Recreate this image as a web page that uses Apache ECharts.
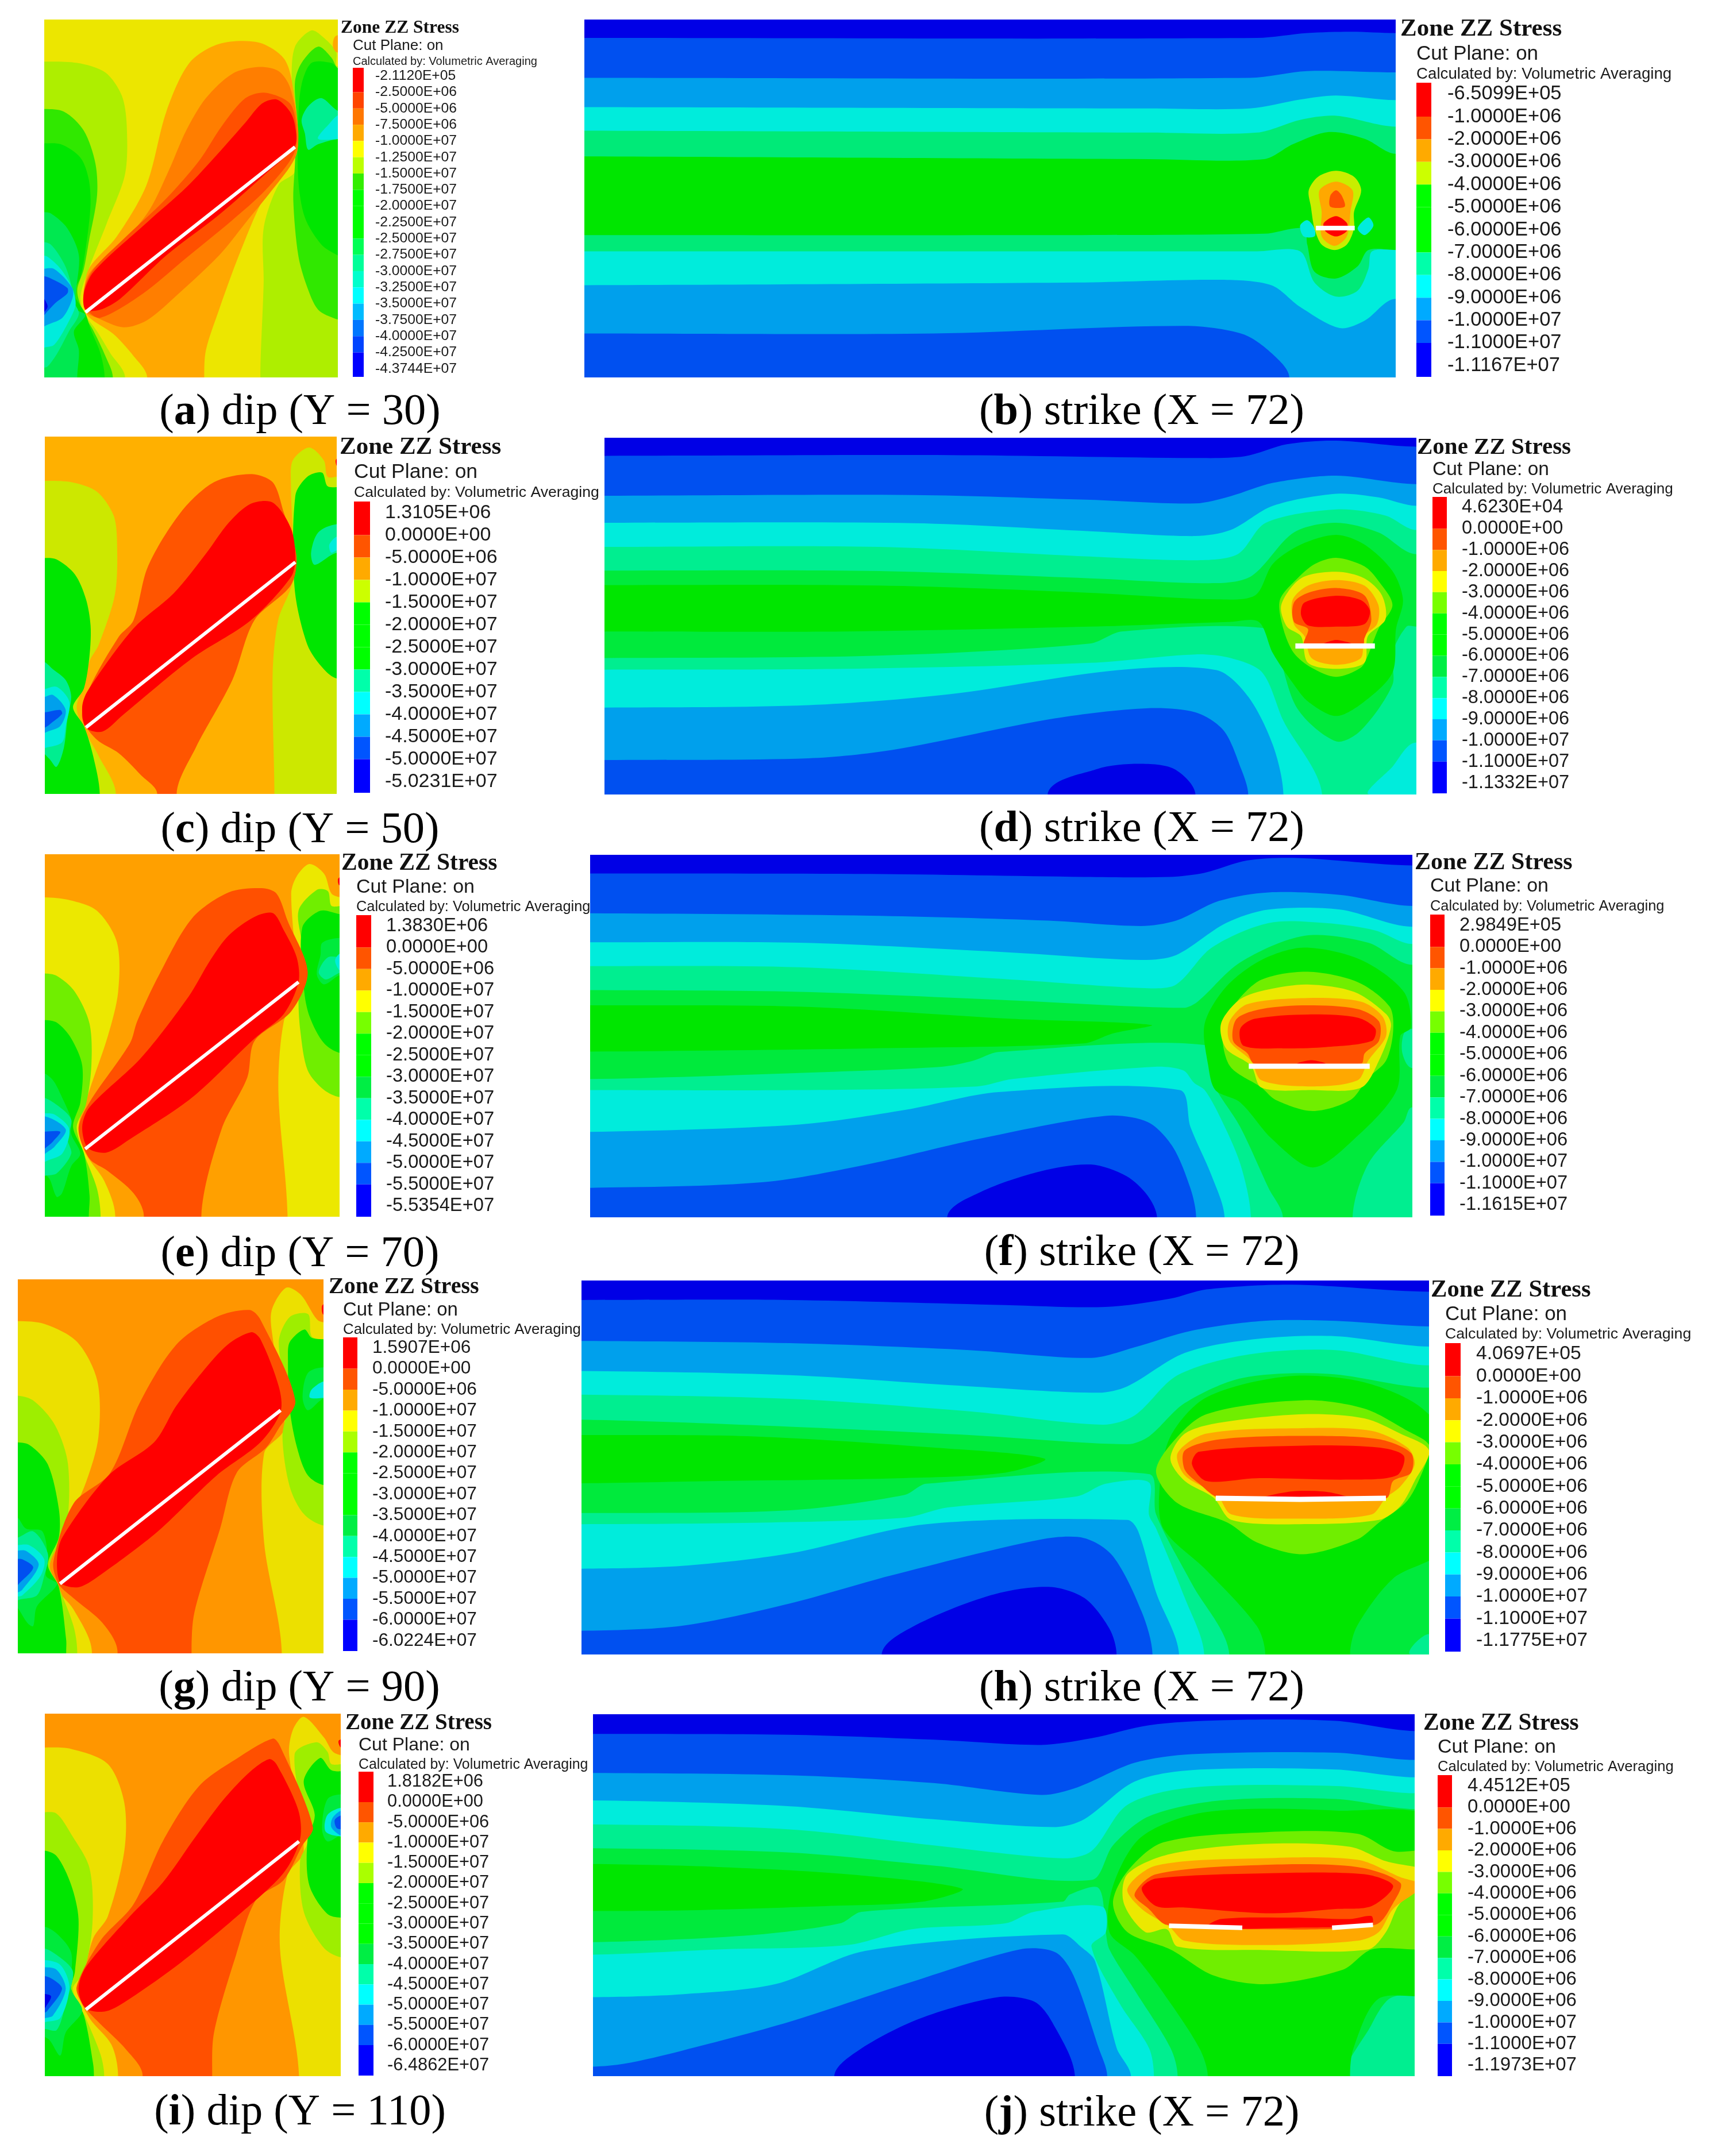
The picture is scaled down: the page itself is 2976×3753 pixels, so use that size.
<!DOCTYPE html>
<html><head><meta charset="utf-8">
<script src="https://cdn.jsdelivr.net/npm/echarts@6/dist/echarts.min.js"></script>
<style>html,body{margin:0;background:#fff}#c{width:2976px;height:3753px}</style></head>
<body><div id="c"></div>
<script>
// contour colours
const RD='#ff0000',OR='#ff5000',OA='#ffa800',YL='#ece800',YG='#70ee00',GN='#00e600',GG='#00ea3c',SG='#00ee90',CY='#00ecdc',LB='#00a0ec',BL='#0050f0',DB='#0000e6';
// legend colours
const lR='#ff0000',lO='#ff5500',lA='#ffaa00',lY='#ffff00',lG='#00ff00',lM='#00ee44',lS='#00ffaa',lC='#00ffff',lL='#00aaff',lB='#0055ff',lD='#0000ff';
// helpers closing a contour band outside the panel
const FAR=3000;
const below=(...p)=>[-300,p[1],...p,FAR,p[p.length-1],FAR,FAR,-300,FAR];
const left=(...p)=>[-300,p[1],...p,p[p.length-2],FAR,-300,FAR];
const bot=(...p)=>[p[0],FAR,...p,p[p.length-2],FAR];
const rb=(...p)=>[p[0],FAR,...p,FAR,p[p.length-1],FAR,FAR];
const right=(...p)=>[FAR,p[1],...p,FAR,p[p.length-1]];

// ---------- tick labels ----------
const labelsA=['-2.1120E+05','-2.5000E+06','-5.0000E+06','-7.5000E+06','-1.0000E+07','-1.2500E+07','-1.5000E+07','-1.7500E+07','-2.0000E+07','-2.2500E+07','-2.5000E+07','-2.7500E+07','-3.0000E+07','-3.2500E+07','-3.5000E+07','-3.7500E+07','-4.0000E+07','-4.2500E+07','-4.3744E+07'];
const labelsB=['-6.5099E+05','-1.0000E+06','-2.0000E+06','-3.0000E+06','-4.0000E+06','-5.0000E+06','-6.0000E+06','-7.0000E+06','-8.0000E+06','-9.0000E+06','-1.0000E+07','-1.1000E+07','-1.1167E+07'];
const labelsC=['1.3105E+06','0.0000E+00','-5.0000E+06','-1.0000E+07','-1.5000E+07','-2.0000E+07','-2.5000E+07','-3.0000E+07','-3.5000E+07','-4.0000E+07','-4.5000E+07','-5.0000E+07','-5.0231E+07'];
const labelsD=['4.6230E+04','0.0000E+00','-1.0000E+06','-2.0000E+06','-3.0000E+06','-4.0000E+06','-5.0000E+06','-6.0000E+06','-7.0000E+06','-8.0000E+06','-9.0000E+06','-1.0000E+07','-1.1000E+07','-1.1332E+07'];
const labelsE=['1.3830E+06','0.0000E+00','-5.0000E+06','-1.0000E+07','-1.5000E+07','-2.0000E+07','-2.5000E+07','-3.0000E+07','-3.5000E+07','-4.0000E+07','-4.5000E+07','-5.0000E+07','-5.5000E+07','-5.5354E+07'];
const labelsF=['2.9849E+05','0.0000E+00','-1.0000E+06','-2.0000E+06','-3.0000E+06','-4.0000E+06','-5.0000E+06','-6.0000E+06','-7.0000E+06','-8.0000E+06','-9.0000E+06','-1.0000E+07','-1.1000E+07','-1.1615E+07'];
const labelsG=['1.5907E+06','0.0000E+00','-5.0000E+06','-1.0000E+07','-1.5000E+07','-2.0000E+07','-2.5000E+07','-3.0000E+07','-3.5000E+07','-4.0000E+07','-4.5000E+07','-5.0000E+07','-5.5000E+07','-6.0000E+07','-6.0224E+07'];
const labelsH=['4.0697E+05','0.0000E+00','-1.0000E+06','-2.0000E+06','-3.0000E+06','-4.0000E+06','-5.0000E+06','-6.0000E+06','-7.0000E+06','-8.0000E+06','-9.0000E+06','-1.0000E+07','-1.1000E+07','-1.1775E+07'];
const labelsI=['1.8182E+06','0.0000E+00','-5.0000E+06','-1.0000E+07','-1.5000E+07','-2.0000E+07','-2.5000E+07','-3.0000E+07','-3.5000E+07','-4.0000E+07','-4.5000E+07','-5.0000E+07','-5.5000E+07','-6.0000E+07','-6.4862E+07'];
const labelsJ=['4.4512E+05','0.0000E+00','-1.0000E+06','-2.0000E+06','-3.0000E+06','-4.0000E+06','-5.0000E+06','-6.0000E+06','-7.0000E+06','-8.0000E+06','-9.0000E+06','-1.0000E+07','-1.1000E+07','-1.1973E+07'];

// ---------- legend bands ----------
const bandsA=[lR,'#ff4400','#ff7700',lA,lY,'#bbff00','#33ee00',lG,lG,lG,'#00ff55','#00ff99','#00ffcc',lC,'#00bbff','#0077ff','#0044ff',lD];
const bandsB=[lR,lO,lA,'#ccff00',lG,lG,lG,lS,lC,lL,lB,lD];
const bandsC=[lR,lO,lA,'#ccff00',lG,lG,lG,lS,lC,lL,lB,lD];
const bands13=[lR,lO,lA,lY,'#77ff00',lG,lG,lM,lS,lC,lL,lB,lD];
const bands14=[lR,lO,lA,lY,'#aaff00',lG,lG,lG,lM,lS,lC,lL,lB,lD];

// ---------- contour bands, painted in order, in section coordinates ----------
const bandsFieldA=[
 ['#aeee00',left(20,185,130,190,215,225,265,310,280,420,275,600,220,780,165,950,140,1050,150,1110,190,1180,230,1260,275,1350)],
 ['#30e800',left(20,360,90,370,150,440,185,560,190,680,165,850,150,950,130,1030,150,1115,180,1180,215,1270,238,1350)],
 [GN,left(20,487,80,490,140,540,165,620,170,720,155,880,140,980,120,1040,155,1115,170,1170,200,1260,213,1350)],
 ['#00e850',left(20,740,50,745,100,800,135,900,125,1050,130,1100,155,1120,120,1180,135,1250,130,1350)],
 [SG,left(20,850,50,860,90,930,110,1000,115,1060,135,1115,105,1180,70,1260,40,1310,20,1320)],
 [CY,left(20,900,40,905,80,950,115,1020,125,1080,110,1130,60,1230,20,1250)],
 [LB,left(20,950,60,950,115,1020,115,1060,85,1130,20,1180)],
 [BL,left(20,975,50,985,100,1020,100,1040,60,1080,20,1150)],
 [DB,left(20,1050,30,1060,40,1090,20,1130)],
 ['#aeee00',rb(685,1350,695,1000,695,800,740,640,790,590,790,400,780,250,790,130,840,70,880,100,915,150,915,200,930,200)],
 ['#ffa800',right(930,85,910,95,905,130,915,150,930,150)],
 ['#30e800',right(930,1135,915,1135,860,1100,825,1010,800,900,785,700,790,560,795,400,790,260,810,190,860,130,900,170,920,215,930,215)],
 [GN,right(930,900,920,900,870,860,820,760,800,620,800,400,810,270,840,190,900,190,930,215)],
 [SG,right(930,370,870,320,830,350,810,400,820,450,830,510,860,490,930,470)],
 [CY,right(930,380,890,420,860,470,930,470)],
 ['#ffa800',bot(342,1350,300,1270,240,1190,160,1120,150,1050,165,950,250,830,340,640,400,370,470,190,560,120,680,115,760,180,790,330,800,480,790,540,745,600,690,700,620,900,560,1100,520,1250,515,1350)],
 ['#ff7e00',[190,1130,270,1165,340,1140,420,1060,560,900,640,780,720,660,790,540,800,440,775,280,740,220,680,205,600,230,520,320,460,440,410,580,350,730,270,850,170,960,150,1040,160,1110]],
 ['#ff5000',[160,1100,200,1130,330,1040,450,920,600,770,700,660,785,530,795,440,775,340,700,300,640,320,570,420,500,550,400,690,270,840,180,950,150,1030]],
 [RD,[155,1100,200,1100,260,1060,400,900,560,750,700,600,790,495,790,420,775,370,735,325,690,340,640,410,560,520,460,650,340,780,180,960,150,1040]]
];
const crackA=[[155,1110],[790,500]];

const bandsFieldC=[
 ['#cce800',left(20,185,100,190,170,225,215,310,225,400,220,600,175,790,150,850,130,950,115,1020,130,1090,175,1200,222,1340)],
 [GN,left(20,470,60,475,110,530,140,620,153,720,150,830,135,950,105,1020,135,1090,160,1200,178,1340)],
 [SG,left(20,850,50,880,85,920,100,980,90,1060,80,1170,60,1240,40,1210,20,1190)],
 [CY,left(20,955,60,945,95,1000,85,1090,75,1150,30,1170,20,1170)],
 [LB,left(20,985,50,975,85,1030,70,1090,20,1130)],
 [BL,left(20,1040,70,1030,75,1045,40,1085,20,1110)],
 ['#cce800',rb(655,1340,650,900,665,700,705,550,700,200,705,110,750,62,790,110,800,170,830,170)],
 [GN,right(830,915,790,880,745,790,710,580,712,240,745,170,785,155,800,205,830,208)],
 [SG,right(830,345,775,375,755,450,765,495,830,450)],
 [CY,right(830,390,805,420,810,450,830,440)],
 [RD,right(830,100,822,110,825,130,830,130)],
 ['#ff5500',bot(335,1340,290,1270,230,1190,170,1140,130,1060,150,950,230,760,270,700,310,500,400,300,490,190,590,160,650,190,680,300,715,460,700,570,600,700,540,920,440,1170,388,1340)],
 [RD,[140,1095,185,1110,240,1050,430,840,590,700,700,540,712,470,700,360,650,265,590,270,530,340,470,450,380,600,270,730,145,960,130,1020]]
];
const crackC=[[140,1095],[712,485]];

const bandsFieldE=[
 [YL,left(20,215,90,225,170,270,225,400,228,600,200,780,150,1000,120,1150,140,1260,190,1370,220,1510)],
 [YG,left(20,525,60,535,110,600,150,730,155,900,140,1060,115,1150,135,1260,170,1400,180,1510)],
 [GN,left(20,715,60,725,100,790,130,900,125,1050,105,1150,135,1260,150,1430,148,1510)],
 [GG,left(20,930,50,960,75,1030,100,1120,100,1180,125,1260,100,1310,75,1420,60,1435,40,1360,20,1340)],
 [SG,left(20,1030,60,1060,100,1120,90,1200,100,1260,60,1340,20,1360)],
 [CY,left(20,1095,55,1100,95,1160,75,1260,20,1310)],
 [LB,left(20,1105,85,1160,55,1230,20,1280)],
 [BL,left(20,1170,70,1170,50,1210,20,1260)],
 [YL,rb(690,1510,665,1000,680,720,715,620,700,200,715,130,750,80,790,120,810,200,840,215)],
 [YG,right(840,1030,790,1000,745,920,725,760,720,620,730,420,720,270,770,185,800,190,810,250,840,250)],
 [GN,right(840,850,790,810,750,700,735,590,730,340,780,270,840,285)],
 [GG,right(840,380,785,400,780,450,770,530,790,570,840,530)],
 [SG,right(840,460,800,460,775,520,795,550,840,520)],
 [CY,right(840,440,820,470,830,510,840,510)],
 [RD,right(840,130,828,140,830,165,840,165)],
 ['#ff5000',bot(298,1510,270,1420,200,1330,150,1280,120,1160,150,1050,260,810,280,720,340,530,430,300,530,195,620,178,660,200,690,310,745,520,700,680,600,800,580,950,510,1160,455,1510)],
 [RD,[145,1235,195,1255,260,1200,430,1030,600,790,680,690,720,560,715,460,680,350,650,280,600,295,530,370,480,470,420,620,290,870,150,1070,130,1150]]
];
const crackE=[[138,1240],[720,560]];

const bandsFieldG=[
 ['#ece000',left(10,205,90,215,180,280,235,420,238,620,205,780,145,960,105,1080,120,1160,170,1240,220,1390)],
 ['#9eee00',left(10,472,60,490,120,580,155,720,150,950,105,1080,130,1160,170,1300,180,1390)],
 [GN,left(10,640,50,650,100,720,130,880,130,980,100,1080,130,1160,150,1350,150,1390)],
 [GG,left(10,905,40,950,85,960,100,1060,95,1120,125,1150,70,1230,60,1300,45,1290,10,1230)],
 [SG,left(10,985,60,960,100,1040,90,1120,70,1190,10,1220)],
 [CY,left(10,1010,50,1010,90,1060,80,1120,30,1190,10,1200)],
 [LB,left(10,1030,40,1030,75,1080,30,1170,10,1190)],
 [BL,left(10,1060,30,1060,60,1090,20,1150,10,1170)],
 ['#ece000',rb(738,1390,690,1000,690,680,745,590,715,280,710,170,750,85,790,110,835,200,860,210)],
 ['#9eee00',right(860,940,800,900,760,800,740,620,755,500,730,280,760,190,810,180,820,260,860,270)],
 [GN,right(860,795,810,760,780,660,760,520,755,340,760,280,800,235,820,265,860,270)],
 [GG,right(860,370,810,390,795,480,810,525,860,480)],
 [CY,right(860,420,820,450,815,480,860,480)],
 [RD,right(860,140,848,150,850,180,860,180)],
 ['#ff5000',bot(290,1390,250,1290,170,1200,130,1150,115,1070,170,860,270,750,350,500,450,290,560,190,650,165,680,200,775,490,730,590,695,660,615,750,570,950,500,1250,492,1390)],
 [RD,[135,1145,185,1160,250,1110,400,960,560,760,680,640,735,530,730,440,680,270,655,245,590,290,520,390,450,510,390,640,265,760,140,980,125,1060]]
];
const crackG=[[133,1148],[735,525]];

const bandsFieldI=[
 ['#ece000',left(20,172,100,178,200,240,245,400,245,600,200,870,160,960,130,1130,115,1170,150,1290,210,1400,228,1525)],
 ['#9eee00',left(20,440,60,445,100,530,150,670,158,900,135,1100,105,1170,140,1290,180,1440,190,1525)],
 [GN,left(20,597,60,620,100,740,120,880,110,1100,100,1170,135,1280,160,1480,162,1525)],
 [GG,left(20,910,60,940,100,1020,100,1170,130,1260,85,1350,70,1445,40,1380,20,1370)],
 [SG,left(20,1000,70,1040,105,1100,85,1230,60,1340,20,1340)],
 [CY,left(20,1050,70,1070,95,1160,70,1290,20,1320)],
 [LB,left(20,1080,60,1090,85,1170,50,1280,20,1300)],
 [BL,left(20,1115,50,1130,75,1170,35,1260,20,1280)],
 [DB,left(20,1190,45,1200,30,1245,20,1260)],
 ['#ece000',rb(722,1525,670,1000,690,700,735,600,695,200,705,100,735,45,790,130,815,190,845,205)],
 ['#9eee00',right(845,1040,790,1000,735,850,725,640,745,560,710,200,770,150,800,190,810,240,845,240)],
 [GN,right(845,875,800,860,750,740,745,560,765,450,735,310,780,215,810,265,845,270)],
 [GG,right(845,365,800,385,785,510,800,560,845,530)],
 [CY,right(845,420,800,450,795,520,845,540)],
 [LB,right(845,430,815,460,810,500,835,535,845,530)],
 [BL,right(845,450,820,470,825,505,845,510)],
 [RD,right(845,135,830,145,835,170,845,170)],
 ['#ff5000',bot(295,1525,250,1420,170,1300,130,1230,115,1160,180,970,270,820,350,560,450,330,560,210,650,135,670,165,760,500,730,580,680,720,605,800,550,1030,490,1350,485,1525)],
 [RD,[140,1250,195,1262,260,1210,400,1060,560,860,680,690,725,550,720,430,660,240,640,220,590,270,520,380,440,540,350,730,260,870,140,1080,120,1170]]
];
const crackI=[[140,1255],[722,560]];

const bandsFieldB=[
 [BL,below(14,98,950,98,1020,80,1080,75,1143,80)],
 [LB,below(14,245,940,245,1020,220,1143,225)],
 [CY,below(14,353,800,358,940,358,1010,325,1060,310,1143,327)],
 ['#00ea78',below(14,440,800,447,950,447,1010,400,1060,385,1143,425)],
 [GN,below(14,535,800,545,960,545,1000,490,1050,445,1100,470,1143,525)],
 ['#00ea78',below(14,825,600,825,960,820,1015,800,1020,860,1030,960,1060,985,1090,940,1105,880,1143,880)],
 [CY,below(14,885,950,885,1010,885,1030,1000,1060,1052,1090,1030,1105,950,1110,885,1143,880)],
 [LB,below(14,1010,700,1000,900,990,970,1010,1010,1090,1065,1168,1100,1140,1143,1060)],
 [BL,left(14,1188,500,1188,850,1160,930,1190,970,1260,995,1350)],
 [CY,[1010,790,1020,770,1030,800,1030,830,1015,830]],
 [CY,[1090,800,1105,760,1112,790,1100,825]],
 ['#c8ee00',[1022,660,1035,610,1060,588,1085,610,1095,660,1085,740,1085,800,1075,860,1058,880,1040,860,1030,800,1025,720]],
 [OA,[1037,660,1060,628,1083,660,1080,740,1075,830,1058,865,1040,830,1040,740]],
 [OR,[1052,680,1060,660,1068,680,1072,720,1052,720]],
 [RD,[1043,780,1060,755,1075,780,1075,810,1060,830,1045,810]]
];
const crackB=[[1032,799],[1086,799]];

const bandsFieldD=[
 [BL,below(10,103,500,100,850,112,920,105,980,55,1050,40,1164,65)],
 [LB,below(10,268,450,265,700,285,850,300,900,270,960,215,1050,185,1164,220)],
 [CY,below(10,380,450,382,700,415,850,435,900,410,960,310,1050,260,1110,275,1164,310)],
 [SG,below(10,480,400,480,700,520,850,535,910,510,950,380,1050,325,1120,350,1164,410)],
 [GG,below(10,578,400,580,700,610,880,630,930,600,990,420,1050,380,1110,420,1164,510)],
 [SG,below(10,940,400,930,700,880,745,830,945,815,965,900,995,1150,1050,1285,1085,1240,1130,1050,1130,920,1150,810,1164,810)],
 [CY,right(1164,1290,1130,1390,1098,1505)],
 [CY,left(10,988,350,985,700,960,850,925,900,940,945,1000,975,1200,1030,1505)],
 [LB,left(10,1145,300,1135,500,1090,740,990,880,990,925,1100,960,1300,975,1505)],
 [BL,left(10,1362,300,1355,420,1320,650,1190,780,1148,850,1165,890,1240,915,1400,925,1505)],
 [DB,bot(640,1505,710,1400,770,1378,820,1400,850,1505)],
 [GN,[-300,638,10,638,400,640,700,670,880,697,935,680,960,550,1000,470,1050,430,1090,470,1130,580,1145,700,1135,820,1130,1000,1090,1120,1050,1180,1010,1120,990,1050,960,920,940,790,900,790,700,810,350,830,10,830,-300,830]],
 [YG,[1050,525,1090,560,1110,620,1130,720,1110,820,1095,930,1085,980,1050,1018,1015,980,990,920,975,820,970,700,995,610,1020,550]],
 [YL,[1050,583,1090,610,1115,680,1120,780,1095,850,1090,960,1050,985,1010,960,1000,850,980,810,972,720,1000,610]],
 [OA,[1050,617,1090,640,1110,720,1108,800,1090,850,1085,940,1050,968,1015,940,1005,850,990,800,988,700,1010,640]],
 [OR,[1050,650,1090,680,1100,780,1090,860,1088,885,1005,885,1010,820,990,790,990,710,1010,670]],
 [RD,[1050,682,1085,700,1098,745,1090,800,1050,810,1010,805,1000,760,1005,710]],
 [RD,[1030,885,1050,865,1075,885]]
];
const crackD=[[992,890],[1105,890]];

const bandsFieldF=[
 [BL,below(6,118,400,120,700,132,820,132,870,115,930,65,1000,55,1162,85)],
 [LB,below(6,280,400,290,650,310,780,332,830,310,890,230,960,195,1060,205,1162,250)],
 [CY,below(6,398,300,400,600,440,780,470,830,450,900,320,960,265,1060,265,1162,335)],
 [SG,below(6,495,300,500,600,550,790,585,830,570,880,420,960,320,1040,320,1110,350,1162,405)],
 [GG,below(6,593,300,600,600,635,840,665,860,640,920,480,1010,372,1100,400,1162,490)],
 [SG,[-300,955,6,955,300,930,500,905,545,880,580,845,875,818,880,960,920,1150,960,1400,980,1518,980,FAR,1078,FAR,1078,1518,1100,1300,1150,1130,1162,1070,FAR,1070,FAR,FAR,-300,FAR]],
 [SG,right(1162,750,1150,770,1148,850,1162,910)],
 [CY,left(6,1000,300,1000,550,985,600,955,800,905,840,920,855,970,870,1000,890,1100,920,1300,935,1518)],
 [LB,left(6,1170,300,1140,450,1080,580,1008,835,1000,850,1150,880,1350,898,1518)],
 [BL,left(6,1398,250,1375,400,1300,550,1200,730,1105,790,1130,825,1230,850,1400,858,1518)],
 [DB,bot(508,1518,555,1415,640,1330,710,1303,760,1350,790,1430,803,1518)],
 [GN,[-300,655,6,655,300,660,600,710,795,735,740,770,700,810,400,830,6,843,-300,843]],
 [GN,[1010,420,1090,470,1150,600,1160,745,1145,780,1140,1000,1080,1200,1022,1315,965,1200,920,1050,885,1000,875,900,870,730,900,580,950,470]],
 [YG,[1015,518,1085,560,1130,660,1135,760,1125,880,1100,950,1075,1040,1022,1085,970,1040,950,990,905,900,895,740,915,640,950,550]],
 [YL,[1015,570,1080,600,1125,690,1132,740,1115,880,1090,990,1020,1000,950,990,935,900,900,830,893,730,920,630,960,590]],
 [OA,[1015,625,1090,640,1120,700,1125,780,1100,880,1085,960,1020,985,950,960,935,880,905,800,905,720,930,650]],
 [OR,[1015,655,1085,670,1115,720,1115,800,1095,850,1090,892,940,892,930,850,910,800,915,710,950,670]],
 [RD,[1015,692,1085,705,1110,750,1105,800,1040,825,980,830,925,820,920,750,940,710]],
 [RD,[1000,892,1020,878,1040,892]]
];
const crackF=[[932,903],[1102,903]];

const bandsFieldH=[
 [BL,below(10,130,300,130,600,148,740,155,830,125,880,92,1000,75,1190,100)],
 [LB,below(10,277,300,285,550,310,720,338,780,300,860,240,960,205,1060,205,1190,225)],
 [CY,below(10,385,300,400,550,440,730,463,770,440,850,320,950,270,1060,260,1190,297)],
 [SG,below(10,470,300,485,550,530,735,578,780,545,840,400,940,325,1060,310,1190,365)],
 [GG,below(10,560,300,585,550,615,770,648,800,620,850,500,930,410,1050,395,1190,445)],
 [SG,left(10,895,300,885,460,830,490,790,800,755,810,900,860,1150,912,1403)],
 [SG,right(1190,1330,1165,1403)],
 [CY,left(10,935,250,930,460,912,520,875,700,835,740,790,800,785,800,900,810,950,850,1200,877,1403)],
 [LB,left(10,1095,150,1085,300,1040,490,935,770,920,785,960,810,1180,842,1403)],
 [BL,left(10,1318,150,1300,300,1220,440,1120,650,990,710,985,750,1050,790,1250,805,1403)],
 [DB,bot(428,1403,470,1305,580,1190,660,1160,710,1200,745,1310,755,1403)],
 [GN,[-300,615,10,615,250,620,500,660,655,700,600,750,450,770,200,780,10,788,-300,788]],
 [GN,[830,620,880,480,990,405,1090,420,1170,500,1210,620,1210,1020,1140,1130,1090,1300,1080,1403,1080,FAR,962,FAR,962,1403,950,1300,880,1100,820,950,815,800]],
 [YG,[1015,490,1100,520,1160,600,1190,650,1185,720,1160,850,1120,930,1090,990,1015,1043,950,1000,910,930,840,860,810,750,830,650,880,540]],
 [YL,[1015,540,1100,555,1150,610,1190,670,1170,780,1150,870,1120,920,1010,935,915,920,890,840,850,780,830,700,850,610,900,570]],
 [OA,[1015,590,1110,600,1160,660,1170,720,1150,800,1130,840,1110,900,1010,915,915,900,895,830,850,760,840,680,880,610]],
 [OR,[1015,618,1120,630,1165,680,1165,750,1140,780,1130,842,900,842,870,790,850,740,850,670,900,630]],
 [RD,[1015,653,1120,660,1155,690,1145,760,1080,775,950,770,880,780,860,720,870,675]],
 [RD,[960,840,1000,817,1050,820,1080,842]]
];
const crackH=[[893,842],[1010,846],[1130,842]];

const bandsFieldJ=[
 [BL,below(26,115,300,118,500,135,650,153,720,130,800,85,900,68,1060,70,1170,105)],
 [LB,below(26,250,300,258,500,285,650,326,700,300,780,215,860,185,1060,180,1170,205)],
 [CY,below(26,345,300,365,500,410,670,437,710,410,780,280,860,240,1060,238,1170,265)],
 [SG,below(26,428,300,445,500,500,680,545,720,520,770,360,860,300,1060,295,1170,320)],
 [GG,below(26,510,300,525,500,570,720,620,750,500,800,400,900,345,1060,340,1170,375)],
 [SG,left(26,835,250,810,370,770,400,730,680,695,690,670,730,648,740,800,745,860,780,1000,830,1200,840,1298)],
 [SG,right(1170,1015,1135,1030,1110,1120,1080,1298)],
 [CY,left(26,878,200,860,380,845,470,790,600,770,640,730,735,712,740,800,720,850,760,1050,800,1200,807,1298)],
 [LB,left(26,1025,150,1015,280,980,405,865,680,808,705,850,725,900,755,1200,775,1298)],
 [BL,left(26,1265,70,1255,150,1210,300,1110,460,980,620,860,670,870,695,950,730,1200,742,1298)],
 [DB,bot(362,1298,395,1210,480,1100,590,1025,640,1040,665,1110,697,1298)],
 [GN,[-300,565,26,565,200,575,380,600,540,650,485,695,350,710,150,725,26,727,-300,727]],
 [GN,[750,640,790,470,880,385,1060,380,1200,420,1200,1000,1120,1030,1085,1200,1080,1298,1080,FAR,882,FAR,882,1298,870,1200,820,1010,780,880,745,800]],
 [YG,[960,455,1090,460,1140,520,1200,530,1200,840,1110,860,1070,930,965,980,890,950,830,860,770,800,750,700,770,590,820,490]],
 [YL,[960,495,1080,505,1130,555,1200,600,1150,700,1130,800,1105,860,960,862,840,850,825,790,795,800,765,700,770,600,830,530]],
 [OA,[960,545,1090,550,1150,610,1180,640,1140,720,1120,800,1090,830,960,845,850,830,828,780,790,720,770,650,810,570]],
 [OR,[960,568,1090,575,1150,630,1140,700,1115,775,960,790,825,775,800,720,780,670,810,600]],
 [RD,[960,597,1100,600,1140,640,1110,710,1060,720,970,735,850,715,810,710,790,650,810,615]],
 [RD,[880,785,900,755,1000,750,1080,755,1110,745,1110,775,1000,785]]
];
const crackJ1=[[828,778],[930,785]];
const crackJ2=[[1055,785],[1112,775]];

const PANELS=[
 {k:'a',txt:') dip (Y = 30)',box:[77,34,588,657],r:[30,920,30,1350],base:'#ece600',f:bandsFieldA,cr:[crackA],lw:6,
  lab:labelsA,bands:bandsA,cx:522,cy:718,t:[593,49,31.5],c:[614,80,26],v:[614,107,20],sw:[614,633,118,656],lx:653,lf:24.7},
 {k:'b',txt:') strike (X = 72)',box:[1017,34,2429,657],r:[14,1143,30,1350],base:DB,f:bandsFieldB,cr:[crackB],lw:8,
  lab:labelsB,bands:bandsB,cx:1987,cy:718,t:[2437,51,43],c:[2465,94,35],v:[2465,129,27.7],sw:[2465,2491,144,656],lx:2519,lf:34.5},
 {k:'c',txt:') dip (Y = 50)',box:[78,760,586,1382],r:[28,825,22,1340],base:'#ffb000',f:bandsFieldC,cr:[crackC],lw:6,
  lab:labelsC,bands:bandsC,cx:522,cy:1446,t:[591,779,43],c:[616,822,35.5],v:[616,858,26.6],sw:[616,644,873,1380],lx:670,lf:34},
 {k:'d',txt:') strike (X = 72)',box:[1052,762,2465,1383],r:[10,1164,28,1505],base:DB,f:bandsFieldD,cr:[crackD],lw:9,
  lab:labelsD,bands:bands13,cx:1987,cy:1444,t:[2466,779,41],c:[2493,818,33.5],v:[2493,852,26.1],sw:[2493,2518,865,1381],lx:2544,lf:32.5},
 {k:'e',txt:') dip (Y = 70)',box:[78,1487,591,2118],r:[28,832,40,1516],base:'#ffa000',f:bandsFieldE,cr:[crackE],lw:6,
  lab:labelsE,bands:bands13,cx:522,cy:2184,t:[594,1503,41.5],c:[620,1545,34],v:[620,1579,25.4],sw:[620,646,1593,2118],lx:672,lf:32.7},
 {k:'f',txt:') strike (X = 72)',box:[1027,1488,2458,2119],r:[6,1162,42,1518],base:DB,f:bandsFieldF,cr:[crackF],lw:9,
  lab:labelsF,bands:bands13,cx:1987,cy:2182,t:[2462,1502,42],c:[2489,1543,34],v:[2489,1578,25.4],sw:[2489,2514,1592,2116],lx:2540,lf:32.7},
 {k:'g',txt:') dip (Y = 90)',box:[31,2227,563,2878],r:[18,852,55,1398],base:'#ff9600',f:bandsFieldG,cr:[crackG],lw:6,
  lab:labelsG,bands:bands14,cx:521,cy:2940,t:[572,2241,40],c:[597,2281,33],v:[597,2315,25.8],sw:[597,622,2328,2874],lx:648,lf:31.6},
 {k:'h',txt:') strike (X = 72)',box:[1012,2229,2487,2880],r:[10,1190,60,1403],base:DB,f:bandsFieldH,cr:[crackH],lw:9,
  lab:labelsH,bands:bands13,cx:1987,cy:2940,t:[2490,2246,42.6],c:[2515,2288,35],v:[2515,2323,26.7],sw:[2515,2542,2338,2875],lx:2569,lf:33.7},
 {k:'i',txt:') dip (Y = 110)',box:[78,2983,593,3614],r:[28,836,32,1530],base:'#ff9600',f:bandsFieldI,cr:[crackI],lw:6,
  lab:labelsI,bands:bands14,cx:522,cy:3678,t:[601,3000,39],c:[624,3038,32],v:[624,3072,24.9],sw:[624,650,3084,3613],lx:674,lf:30.8},
 {k:'j',txt:') strike (X = 72)',box:[1032,2984,2462,3614],r:[26,1170,47,1298],base:DB,f:bandsFieldJ,cr:[crackJ1,crackJ2],lw:8,
  lab:labelsJ,bands:bands13,cx:1987,cy:3680,t:[2477,3000,41.4],c:[2502,3042,34],v:[2502,3076,25.6],sw:[2502,2527,3090,3614],lx:2554,lf:33}
];

const grid=[],xAxis=[],yAxis=[],series=[],graphic=[];
const SERIF='"Liberation Serif"',SANS='"Liberation Sans"';
const txt=(text,x,y,font,fill)=>graphic.push({type:'text',silent:true,style:{text,x,y,font,fill:fill||'#1a1a1a',verticalAlign:'middle',align:'left'}});

PANELS.forEach(p=>{
 const g=grid.length;
 grid.push({left:p.box[0],top:p.box[1],width:p.box[2]-p.box[0],height:p.box[3]-p.box[1],show:true,backgroundColor:p.base,borderWidth:0});
 xAxis.push({gridIndex:g,type:'value',min:p.r[0],max:p.r[1],show:false});
 yAxis.push({gridIndex:g,type:'value',min:p.r[2],max:p.r[3],inverse:true,show:false});
 const field=p.f;
 series.push({type:'custom',xAxisIndex:g,yAxisIndex:g,clip:true,silent:true,animation:false,
  data:field.map((_,i)=>[i]),encode:{x:0,y:0},
  renderItem:(params,api)=>{
   const lay=field[api.value(0)],pts=[];
   for(let i=0;i<lay[1].length;i+=2)pts.push(api.coord([lay[1][i],lay[1][i+1]]));
   return {type:'polygon',shape:{points:pts,smooth:0.3},style:{fill:lay[0]}};
  }});
 p.cr.forEach(c=>series.push({type:'line',xAxisIndex:g,yAxisIndex:g,data:c,symbol:'none',silent:true,animation:false,clip:true,z:5,
  lineStyle:{color:'#ffffff',width:p.lw,cap:'butt'}}));

 // legend column
 const h=grid.length,bands=p.bands;
 grid.push({left:p.sw[0],top:p.sw[2],width:p.sw[1]-p.sw[0],height:p.sw[3]-p.sw[2],borderWidth:0});
 xAxis.push({gridIndex:h,type:'value',min:0,max:1,show:false});
 yAxis.push({gridIndex:h,type:'category',data:p.lab,inverse:true,position:'right',
  axisLine:{show:false},axisTick:{show:false},splitLine:{show:false},
  axisLabel:{show:true,interval:0,hideOverlap:false,margin:p.lx-p.sw[1],color:'#1a1a1a',fontFamily:'Liberation Sans',fontSize:p.lf,padding:[5,0,0,0]}});
 series.push({type:'custom',xAxisIndex:h,yAxisIndex:h,silent:true,animation:false,
  data:bands.map((c,i)=>[0,i]),
  renderItem:(params,api)=>{
   const i=api.value(1),a=api.coord([0,i]),b=api.coord([1,i+1]),st=api.size([0,1])[1];
   const top=i===0?a[1]-st/2:a[1],bot2=i===bands.length-1?b[1]+st/2:b[1];
   return {type:'rect',shape:{x:a[0],y:top,width:b[0]-a[0],height:bot2-top},style:{fill:bands[i]}};
  }});

 txt('Zone ZZ Stress',p.t[0],p.t[1],'bold '+p.t[2]+'px '+SERIF,'#111');
 txt('Cut Plane: on',p.c[0],p.c[1],p.c[2]+'px '+SANS);
 txt('Calculated by: Volumetric Averaging',p.v[0],p.v[1],p.v[2]+'px '+SANS);
 graphic.push({type:'text',silent:true,style:{x:p.cx,y:p.cy,align:'center',verticalAlign:'middle',fill:'#000',
  text:'{n|(}{b|'+p.k+'}{n|'+p.txt+'}',
  rich:{n:{font:'76.5px '+SERIF,fill:'#000'},b:{font:'bold 76.5px '+SERIF,fill:'#000'}}}});
});
const chart=echarts.init(document.getElementById('c'),null,{renderer:'canvas'});
chart.setOption({animation:false,backgroundColor:'#fff',grid,xAxis,yAxis,series,graphic});
</script></body></html>
